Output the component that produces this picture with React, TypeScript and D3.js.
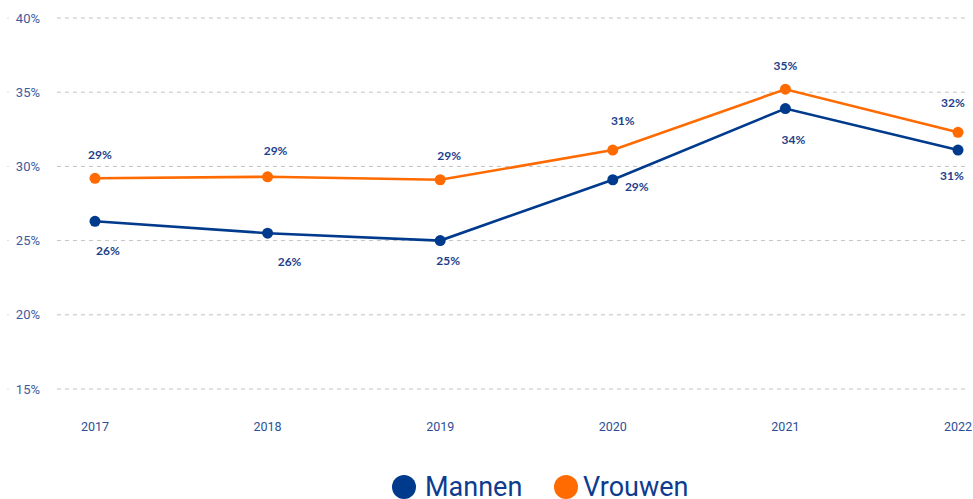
import * as d3 from "d3";
import { useMemo } from "react";

const width = 973;
const height = 499;
const marginTop = 18;
const marginLeft = 57;
const marginRight = 8;
const plotBottom = 389;

const years = ["2017", "2018", "2019", "2020", "2021", "2022"];
const mannen = [26.3, 25.5, 25.0, 29.1, 33.9, 31.1];
const vrouwen = [29.2, 29.3, 29.1, 31.1, 35.2, 32.3];
const mannenLabels = ["26%", "26%", "25%", "29%", "34%", "31%"];
const vrouwenLabels = ["29%", "29%", "29%", "31%", "35%", "32%"];
const yTicks = [15, 20, 25, 30, 35, 40];

// label nudges relative to each point (layout only)
const mannenNudge: [number, number][] = [[13, 29], [22, 29], [8, 20], [24, 7], [8, 31], [-6, 26]];
const vrouwenNudge: [number, number][] = [[5, -23], [8, -26], [9, -24], [10, -29], [0, -23], [-5, -29]];

const navy = "#003a8c";
const orange = "#ff6b00";
const sans = "Roboto, 'Noto Sans', sans-serif";
const bold = "Lato, 'Open Sans', sans-serif";

interface Series {
  name: string;
  values: number[];
  labels: string[];
  nudge: [number, number][];
  color: string;
}

const series: Series[] = [
  { name: "Mannen", values: mannen, labels: mannenLabels, nudge: mannenNudge, color: navy },
  { name: "Vrouwen", values: vrouwen, labels: vrouwenLabels, nudge: vrouwenNudge, color: orange },
];

const App = () => {
  const x = useMemo(
    () => d3.scalePoint<string>().domain(years).range([95, 958]),
    []
  );
  const y = useMemo(
    () => d3.scaleLinear().domain([15, 40]).range([plotBottom, marginTop]),
    []
  );

  const line = d3
    .line<number>()
    .x((_, i) => x(years[i]) as number)
    .y((d) => y(d));

  return (
    <div style={{ position: "absolute", left: 0, top: 0 }}>
      <svg width={width} height={height} viewBox={`0 0 ${width} ${height}`}>
        {yTicks.map((t) => (
          <g key={t}>
            <line
              x1={marginLeft}
              x2={width - marginRight}
              y1={y(t)}
              y2={y(t)}
              stroke="#c4c4c4"
              strokeDasharray="4 4"
            />
            <line x1={7} x2={9} y1={y(t)} y2={y(t)} stroke="#ddd" />
            <text
              x={40}
              y={y(t)}
              dy="0.35em"
              textAnchor="end"
              fontSize={13}
              fontFamily={sans}
              fill="#3d5c9e"
            >
              {t}%
            </text>
          </g>
        ))}

        {years.map((yr) => (
          <text
            key={yr}
            x={x(yr)}
            y={427}
            dy="0.35em"
            textAnchor="middle"
            fontSize={12.5}
            fontFamily={sans}
            fill="#2b4f97"
          >
            {yr}
          </text>
        ))}

        {series.map((s) => (
          <g key={s.name}>
            <path d={line(s.values) as string} fill="none" stroke={s.color} strokeWidth={2.6} />
            {s.values.map((v, i) => (
              <circle key={i} cx={x(years[i])} cy={y(v)} r={5.5} fill={s.color} />
            ))}
          </g>
        ))}

        {series.map((s) =>
          s.values.map((v, i) => (
            <text
              key={s.name + i}
              x={(x(years[i]) as number) + s.nudge[i][0]}
              y={y(v) + s.nudge[i][1]}
              dy="0.35em"
              textAnchor="middle"
              fontSize={12}
              fontWeight={700}
              fontFamily={bold}
              fill="#1d3f8c"
            >
              {s.labels[i]}
            </text>
          ))
        )}

        <g transform="translate(404, 487)">
          <circle r={12} fill={navy} />
          <text x={21} y={9} fontSize={27} fontFamily={sans} fill="#0d3c8e">
            Mannen
          </text>
          <circle cx={162} r={12} fill={orange} />
          <text x={179} y={9} fontSize={27} fontFamily={sans} fill="#0d3c8e">
            Vrouwen
          </text>
        </g>
      </svg>
    </div>
  );
};

export default App;
